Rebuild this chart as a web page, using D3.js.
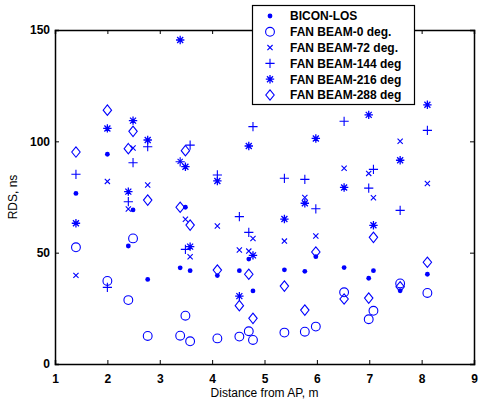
<!DOCTYPE html>
<html>
<head>
<meta charset="utf-8">
<script src="https://cdn.jsdelivr.net/npm/d3@7"></script>
<style>
  body { margin: 0; background: #fff; }
  svg { display: block; font-family: "Liberation Sans", Arial, sans-serif; }
  .tick text { font-weight: bold; font-size: 12px; fill: #000; }
</style>
</head>
<body>
<div class="chart-container"></div>
<script>
var distances = [1.4, 2.0, 2.4, 2.49, 2.77, 3.39, 3.49, 3.58, 4.1, 4.52, 4.70, 4.78, 5.38, 5.77, 5.98, 6.52, 6.99, 7.08, 7.59, 8.11];

var biconLos = [76.6, 94.2, 53.0, 69.2, 38.0, 43.2, 70.4, 41.9, 39.7, 41.9, 47.1, 32.8, 42.3, 41.6, 48.2, 43.3, 38.5, 41.9, 32.9, 40.3];
var fanBeam0 = [52.4, 37.3, 28.7, 56.4, 12.6, 12.7, 21.7, 10.2, 11.5, 12.3, 14.7, 10.8, 14.1, 14.5, 16.8, 32.2, 20.1, 23.9, 36.2, 31.9];
var fanBeam72 = [39.8, 82.0, 69.6, 97.0, 80.4, 91.0, 65.0, 48.2, 62.0, 51.2, 50.7, 56.4, 55.2, 74.8, 57.5, 87.9, 85.6, 74.7, 100.0, 81.1];
var fanBeam144 = [85.2, 34.4, 72.9, 90.4, 97.6, 90.8, 51.5, 98.3, 84.9, 66.2, 59.1, 106.6, 83.4, 82.9, 69.7, 109.0, 79.0, 87.4, 69.0, 104.9];
var fanBeam216 = [63.2, 105.8, 77.4, 109.3, 100.6, 145.5, 88.6, 52.7, 82.2, 30.5, 97.9, 48.8, 65.1, 72.2, 101.3, 79.3, 111.9, 62.3, 91.5, 116.4];
var fanBeam288 = [95.2, 114.0, 96.7, 104.5, 73.6, 70.4, 95.8, 62.4, 42.2, 26.2, 40.3, 20.5, 35.0, 24.2, 50.3, 29.2, 29.6, 56.9, 34.7, 45.7];

var seriesNames = ['BICON-LOS', 'FAN BEAM-0 deg.', 'FAN BEAM-72 deg.', 'FAN BEAM-144 deg', 'FAN BEAM-216 deg', 'FAN BEAM-288 deg'];
var xTicks = [1, 2, 3, 4, 5, 6, 7, 8, 9];
var yTicks = [0, 50, 100, 150];

var blue = '#0000ff';

// marker shapes, centred on 0,0
var markers = {
  dot: 'M2.4,0A2.4,2.4 0 1,1 -2.4,0A2.4,2.4 0 1,1 2.4,0Z',
  circle: 'M4.4,0A4.4,4.4 0 1,1 -4.4,0A4.4,4.4 0 1,1 4.4,0Z',
  x: 'M-2.6,-2.6L2.6,2.6M-2.6,2.6L2.6,-2.6',
  plus: 'M-4.6,0L4.6,0M0,-4.6L0,4.6',
  star: 'M-4.2,0L4.2,0M0,-4.2L0,4.2M-3,-3L3,3M-3,3L3,-3',
  diamond: 'M0,-5.2L4.2,0L0,5.2L-4.2,0Z'
};

var series = [
  {name: seriesNames[0], values: biconLos, marker: 'dot'},
  {name: seriesNames[1], values: fanBeam0, marker: 'circle'},
  {name: seriesNames[2], values: fanBeam72, marker: 'x'},
  {name: seriesNames[3], values: fanBeam144, marker: 'plus'},
  {name: seriesNames[4], values: fanBeam216, marker: 'star'},
  {name: seriesNames[5], values: fanBeam288, marker: 'diamond'}
];

function styleMarker(sel, kind) {
  if (kind === 'dot') {
    sel.style('fill', blue).style('stroke', 'none');
  } else {
    sel.style('fill', 'none').style('stroke', blue).style('stroke-width', kind === 'star' ? 1.3 : 1.1);
  }
}

var margin = {top: 30, right: 6, bottom: 37, left: 55};
var W = 480, H = 401;
var width = W - margin.left - margin.right;
var height = H - margin.top - margin.bottom;

var x = d3.scaleLinear().domain([1, 9]).range([margin.left, margin.left + width]);
var y = d3.scaleLinear().domain([0, 150]).range([margin.top + height, margin.top]);

var svg = d3.select('.chart-container').append('svg')
  .attr('width', W)
  .attr('height', H);

// axes with inward ticks on all four sides
var gX = svg.append('g')
  .attr('transform', `translate(0,${margin.top + height})`)
  .call(d3.axisBottom(x).tickValues(xTicks).tickSize(-4).tickPadding(8));
svg.append('g')
  .attr('transform', `translate(0,${margin.top})`)
  .call(d3.axisTop(x).tickValues(xTicks).tickSize(-4).tickFormat(''));
var gY = svg.append('g')
  .attr('transform', `translate(${margin.left},0)`)
  .call(d3.axisLeft(y).tickValues(yTicks).tickSize(-4).tickPadding(5));
svg.append('g')
  .attr('transform', `translate(${margin.left + width},0)`)
  .call(d3.axisRight(y).tickValues(yTicks).tickSize(-4).tickFormat(''));

svg.selectAll('.domain').style('stroke', '#000').style('stroke-width', 1.5);
svg.selectAll('.tick line').style('stroke', '#000');
gX.selectAll('.tick text').attr('dy', '0.9em');

svg.append('text')
  .attr('x', margin.left + width / 2)
  .attr('y', 397)
  .attr('text-anchor', 'middle')
  .style('font-size', '12px')
  .text('Distance from AP, m');

svg.append('text')
  .attr('transform', `translate(17,${margin.top + height / 2}) rotate(-90)`)
  .attr('text-anchor', 'middle')
  .style('font-size', '12px')
  .text('RDS, ns');

// points
series.forEach(function(s) {
  var pts = distances.map((d, i) => ({x: d, y: s.values[i]})).filter(d => d.y != null);
  svg.append('g').selectAll('path')
    .data(pts)
    .enter().append('path')
      .attr('transform', d => `translate(${x(d.x)},${y(d.y)})`)
      .attr('d', markers[s.marker])
      .call(styleMarker, s.marker);
});

// legend
var legend = svg.append('g').attr('transform', 'translate(252.5,5.5)');
legend.append('rect')
  .attr('width', 162)
  .attr('height', 99)
  .style('fill', '#fff')
  .style('stroke', '#000')
  .style('stroke-width', 1.2);

var rows = legend.selectAll('.row')
  .data(series)
  .enter().append('g')
    .attr('class', 'row')
    .attr('transform', (d, i) => `translate(0,${10.5 + i * 15.8})`);

rows.append('path')
  .attr('transform', 'translate(17.5,0)')
  .attr('d', d => markers[d.marker])
  .each(function(d) { d3.select(this).call(styleMarker, d.marker); });

rows.append('text')
  .attr('x', 37.5)
  .attr('dy', '0.36em')
  .style('font-size', '12px')
  .style('font-weight', 'bold')
  .text(d => d.name);
</script>
</body>
</html>
